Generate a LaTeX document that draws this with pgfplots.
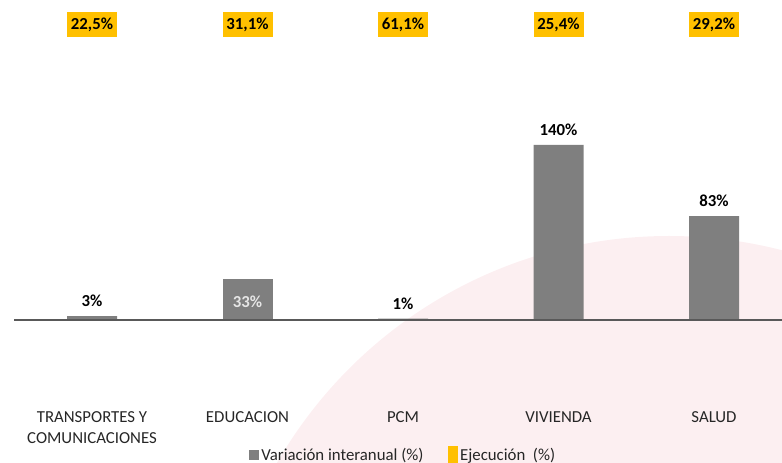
\documentclass[border=0pt]{standalone}
\usepackage{fontspec}
\setmainfont{Carlito}
\usepackage{pgfplots}
\pgfplotsset{compat=1.18}
\definecolor{barc}{RGB}{127,127,127}
\definecolor{yel}{RGB}{255,192,0}
\definecolor{pinkbg}{RGB}{252,239,241}
\definecolor{axc}{RGB}{89,89,89}
\definecolor{txt}{RGB}{38,38,38}
\newcommand{\fs}{\fontsize{12.6pt}{15.75pt}\selectfont}
\begin{document}
\begin{tikzpicture}
\path[use as bounding box] (0,0) rectangle (586.5pt,347.25pt);
\begin{scope}
\clip (0,0) rectangle (586.5pt,347.25pt);
\fill[pinkbg] (501.75pt,-168.75pt) circle (339pt);
\end{scope}
\begin{axis}[
  at={(69pt,107.25pt)}, anchor=origin,
  x=116.625pt, y=0.9375pt,
  xmin=-0.5, xmax=4.5, ymin=-70, ymax=256,
  axis line style={draw=none},
  xtick={0,1,2,3,4},
  xticklabels={{TRANSPORTES Y\\COMUNICACIONES},EDUCACION,PCM,VIVIENDA,SALUD},
  xticklabel style={align=center, font=\fs, text=txt, anchor=north, inner sep=0pt, yshift=-3pt},
  major tick length=0pt, ytick=\empty,
  clip=false,
  /pgf/number format/assume math mode=true,
  legend style={at={(0.5003,-0.1166)}, anchor=center, draw=none, fill=none,
    legend columns=2, font=\fs, text=txt,
    /tikz/every even column/.append style={column sep=16pt}},
]
\addplot[ybar, bar width=37.5pt, bar shift=0pt, fill=barc, draw=none,
  legend image code/.code={\fill[barc] (0pt,-3.75pt) rectangle (7.5pt,3.75pt);},
  nodes near coords={\pgfmathprintnumber{\pgfplotspointmeta}\%},
  every node near coord/.append style={font=\fs\bfseries, text=black, anchor=south, inner sep=0pt, yshift=7pt}]
  coordinates {(0,3) (2,1) (3,140) (4,83)};
\addlegendentry{Variación interanual (\%)}
\addplot[ybar, bar width=37.5pt, bar shift=0pt, fill=barc, draw=none, forget plot,
  nodes near coords={\pgfmathprintnumber{\pgfplotspointmeta}\%},
  every node near coord/.append style={font=\fs\bfseries, text={rgb,255:red,230;green,230;blue,230}, anchor=north, inner sep=0pt, yshift=-12.5pt}]
  coordinates {(1,33)};
\addplot[draw=none, mark=none, point meta=explicit,
  legend image code/.code={\fill[yel] (0pt,-6.4pt) rectangle (7.5pt,6.4pt);},
  nodes near coords={\pgfmathprintnumber[fixed,fixed zerofill,precision=1,use comma]{\pgfplotspointmeta}\%},
  every node near coord/.append style={anchor=center, fill=yel, minimum width=37.5pt, minimum height=18.75pt, inner sep=0pt, font=\fs\bfseries, text=black}]
  coordinates {(0,236) [22.5] (1,236) [31.1] (2,236) [61.1] (3,236) [25.4] (4,236) [29.2]};
\addlegendentry{Ejecución\ \ (\%)}
\draw[axc, line width=1.1pt] (axis cs:-0.5,0) -- (axis cs:4.6,0);
\end{axis}
\end{tikzpicture}
\end{document}
